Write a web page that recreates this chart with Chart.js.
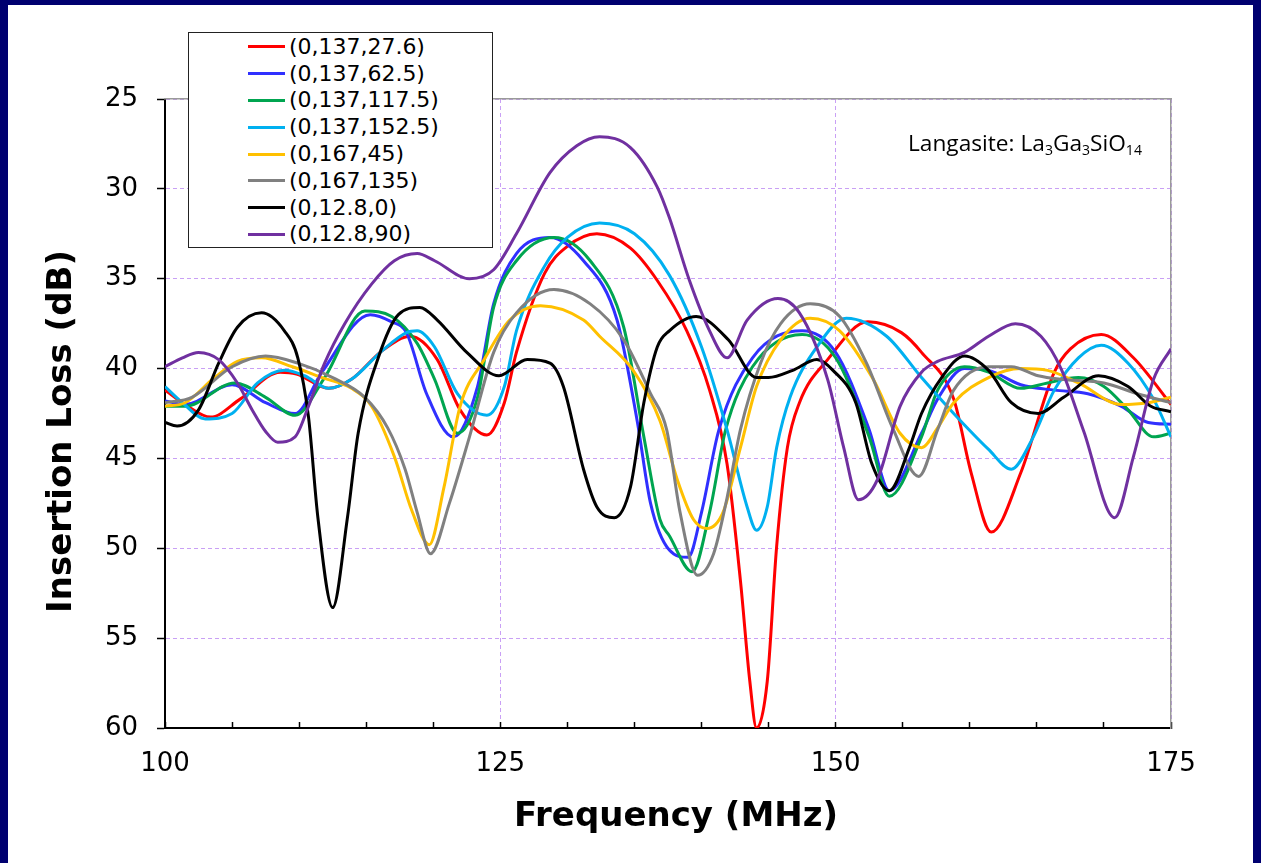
<!DOCTYPE html>
<html>
<head>
<meta charset="utf-8">
<script src="https://cdn.jsdelivr.net/npm/chart.js@4.4.1/dist/chart.umd.min.js"></script>
<style>
html,body{margin:0;padding:0;background:#000070;width:1261px;height:863px;overflow:hidden}
#panel{position:absolute;left:8px;top:5px;width:1245px;height:858px;background:#fff}
#c{position:absolute;left:0;top:0}
#legend{position:absolute;left:188px;top:32px;width:305px;height:216px;box-sizing:border-box;border:1.5px solid #222;background:#fff;font-family:"DejaVu Sans",sans-serif;font-size:22px;color:#000}
.row{position:absolute;left:0;height:26px;display:flex;align-items:center}
.swatch{margin-left:59px;width:37px;height:3px}
.lbl{margin-left:4px;white-space:nowrap;line-height:26px}
#note{position:absolute;left:908px;top:131px;font-family:"Open Sans",sans-serif;font-size:19px;white-space:nowrap;color:#000;line-height:24px}
#note sub{font-size:0.62em;vertical-align:-0.3em;line-height:0}
</style>
</head>
<body>
<div id="panel"></div>
<canvas id="c" width="1261" height="863"></canvas>
<div id="legend"></div>
<div id="note">Langasite: La<sub>3</sub>Ga<sub>3</sub>SiO<sub>14</sub></div>
<script>
// ---- Data (frequency MHz, insertion loss dB) ----
const seriesNames = ['(0,137,27.6)','(0,137,62.5)','(0,137,117.5)','(0,137,152.5)','(0,167,45)','(0,167,135)','(0,12.8,0)','(0,12.8,90)'];

const red = [[100,41.2],[101.5,42.0],[103.4,42.7],[105.6,41.7],[108.6,40.2],[109.8,40.3],[112.2,41.1],[113.9,40.6],[116.2,39.0],[118.3,38.2],[120.3,39.5],[122.0,42.3],[124.0,43.7],[125.3,41.9],[126.2,39.1],[128.3,34.7],[130.0,33.2],[132.2,32.5],[134.7,33.3],[136.7,35.1],[138.9,37.9],[140.6,41.2],[141.9,45.3],[142.9,51.8],[143.6,57.4],[144.1,60.0],[144.9,57.4],[145.6,49.9],[146.4,44.4],[147.3,41.9],[149.4,39.5],[152.4,37.4],[154.9,38.0],[156.4,39.1],[158.8,41.7],[160.1,45.8],[161.6,49.1],[163.8,45.8],[166.3,40.2],[167.5,38.9],[169.8,38.1],[172.2,39.4],[175,42.0]];

const blue = [[100,41.8],[101.5,42.0],[105.0,40.9],[107.5,41.9],[109.7,42.5],[111.7,40.2],[115.3,37.0],[116.9,37.4],[118.0,38.0],[119.5,41.4],[121.5,43.8],[123.3,41.0],[124.5,36.4],[126.2,33.6],[128.7,32.7],[131.2,34.0],[133.7,37.3],[135.2,42.9],[136.2,47.5],[137.6,50.1],[139.0,50.5],[140.0,48.0],[141.3,43.4],[143.8,39.4],[147.5,37.9],[150.0,39.1],[152.5,43.4],[154.0,46.8],[156.4,43.6],[157.6,41.7],[159.6,40.0],[161.4,40.1],[163.8,40.9],[166.3,41.2],[168.8,41.4],[171.3,42.1],[173.3,43.0],[175,43.1]];

const green = [[100,42.1],[101.5,42.1],[105.2,40.8],[107.5,41.6],[109.7,42.6],[111.9,40.5],[114.9,36.8],[116.9,37.1],[118.8,38.6],[120.1,40.6],[121.8,43.6],[123.3,41.6],[124.5,36.6],[126.2,34.0],[129.0,32.7],[131.7,34.0],[134.2,37.7],[135.7,43.8],[136.9,48.4],[137.6,49.3],[139.3,51.3],[140.6,48.0],[141.8,43.4],[143.8,39.9],[147.5,38.1],[150.0,39.4],[152.5,43.8],[154.0,47.1],[156.4,43.8],[157.6,41.2],[159.6,39.9],[161.4,40.2],[163.8,41.1],[165.8,40.8],[168.1,40.5],[170.0,41.0],[171.8,42.3],[173.7,43.8],[175,43.6]];

const cyan = [[100,41.0],[101.3,41.9],[103.0,42.8],[105.0,42.5],[106.9,40.8],[108.9,40.1],[110.4,40.4],[112.2,41.1],[113.9,40.6],[116.2,39.0],[118.0,38.0],[118.8,37.9],[120.1,38.8],[121.8,41.4],[124.0,42.6],[125.3,41.0],[126.2,37.9],[128.3,34.3],[130.0,32.7],[132.4,31.9],[135.0,32.5],[137.6,34.8],[140.0,38.8],[141.9,43.4],[143.4,47.7],[144.1,49.0],[144.9,47.7],[145.6,44.4],[146.6,41.6],[148.6,38.8],[150.8,37.2],[153.8,38.2],[156.4,40.5],[158.8,42.5],[161.4,44.5],[163.1,45.6],[164.6,44.0],[166.3,41.2],[168.1,39.4],[169.8,38.7],[171.8,39.7],[173.7,41.7],[175,43.8]];

const yellow = [[100,42.1],[101.5,41.9],[103.7,40.5],[105.4,39.6],[107.2,39.4],[109.5,39.9],[111.7,40.5],[113.9,41.1],[115.4,42.1],[117.1,44.9],[118.4,47.9],[119.7,49.8],[120.8,46.6],[122.0,42.1],[123.8,39.5],[125.7,37.3],[128.0,36.5],[131.2,37.3],[132.4,38.2],[134.9,40.1],[136.9,42.9],[138.2,46.2],[139.4,48.4],[140.4,48.9],[141.6,48.0],[142.9,44.4],[144.1,41.0],[145.9,38.4],[148.1,37.2],[150.3,37.9],[152.8,40.6],[154.8,43.6],[156.4,44.4],[157.6,43.3],[158.8,41.9],[161.4,40.5],[163.8,40.0],[165.8,40.1],[168.1,40.8],[171.3,42.0],[173.3,41.9],[175,41.6]];

const gray = [[100,41.9],[102.0,41.6],[105.0,39.9],[107.5,39.3],[109.9,39.7],[112.5,40.5],[114.9,41.6],[116.6,43.3],[117.9,45.6],[118.8,48.0],[119.8,50.3],[121.2,47.5],[122.7,43.8],[124.5,39.1],[126.2,36.9],[129.0,35.6],[131.7,36.4],[134.2,38.4],[136.2,41.4],[137.4,43.4],[138.4,48.0],[139.7,51.5],[140.9,50.3],[141.9,47.2],[142.9,43.4],[144.4,39.7],[145.9,37.5],[148.1,36.4],[150.3,37.1],[152.3,39.7],[154.3,43.4],[156.2,46.0],[157.6,43.4],[158.8,41.2],[161.4,39.9],[163.1,39.9],[165.1,40.4],[166.8,40.6],[170.0,40.8],[172.5,41.4],[175,41.9]];

const black = [[100,43.0],[100.9,43.2],[102.5,42.3],[104.0,39.7],[105.4,37.7],[107.2,36.9],[108.9,37.9],[109.9,39.4],[110.7,42.7],[111.4,48.3],[112.5,53.3],[113.6,48.3],[114.4,43.6],[115.9,39.4],[117.4,37.0],[119.0,36.6],[120.3,37.3],[122.5,39.1],[124.9,40.4],[127.0,39.5],[128.7,39.7],[129.7,41.0],[131.2,45.6],[132.2,47.7],[133.5,48.3],[134.7,46.6],[135.7,41.9],[136.7,38.8],[137.6,37.9],[139.6,37.1],[142.0,38.4],[144.1,40.5],[145.0,40.5],[146.8,40.1],[148.6,39.5],[149.8,40.1],[151.5,41.9],[152.7,45.3],[154.0,46.8],[155.5,44.4],[156.4,42.5],[157.9,40.5],[159.6,39.3],[161.4,40.1],[163.1,41.9],[165.1,42.5],[167.0,41.6],[169.6,40.4],[171.8,41.0],[173.5,42.1],[175,42.4]];

const purple = [[100,39.9],[101.3,39.4],[102.5,39.1],[104.0,39.5],[105.4,40.8],[106.5,42.3],[107.5,43.5],[108.4,44.1],[109.7,43.8],[110.7,42.1],[111.9,39.7],[113.4,37.5],[115.4,35.3],[117.1,34.0],[118.8,33.6],[120.1,34.0],[122.7,35.0],[124.5,34.5],[126.2,32.5],[128.7,29.1],[130.7,27.6],[132.4,27.1],[134.7,27.7],[136.7,29.9],[137.6,31.6],[139.1,35.1],[140.6,37.9],[141.9,39.4],[143.4,37.3],[145.7,36.1],[147.3,36.9],[149.4,40.6],[150.6,44.4],[151.7,47.3],[153.1,46.2],[154.8,42.1],[156.4,40.2],[157.6,39.6],[159.6,39.1],[161.4,38.2],[163.4,37.5],[165.3,38.2],[166.8,40.0],[168.5,43.5],[170.8,48.3],[172.2,44.9],[173.7,40.6],[175,38.9]];

const seriesData = [red, blue, green, cyan, yellow, gray, black, purple];

const freqMin = 100, freqMax = 175, freqStep = 5, freqLabelStep = 25;
const lossMin = 25, lossMax = 60, lossStep = 5;

// ---- Styles ----
const seriesColors = ['#ff0000','#3030ff','#00a550','#00b0f0','#ffc000','#808080','#000000','#7030a0'];
const gridPurple = '#c9a0f5';
const tickFont = {family:'"DejaVu Sans", sans-serif', size:26};
const titleFont = {family:'"DejaVu Sans", sans-serif', size:34, weight:'bold'};

// small offsets for the axis titles (reference titles are not exactly centred on the plot)
const titleShift = {
  id: 'titleShift',
  afterLayout(chart) {
    [['x', 8, 3], ['y', 0, 18]].forEach(([id, dx, dy]) => {
      const s = chart.scales[id];
      if (!s || s._shiftWrapped) return;
      const orig = s.drawTitle;
      s.drawTitle = function () {
        const c = this.ctx;
        c.save(); c.translate(dx, dy);
        orig.apply(this, arguments);
        c.restore();
      };
      s._shiftWrapped = true;
    });
  }
};

const datasets = seriesData.map((pts, i) => ({
  label: seriesNames[i],
  data: pts.map(p => ({x:p[0], y:p[1]})),
  borderColor: seriesColors[i],
  backgroundColor: seriesColors[i],
  borderWidth: 3,
  pointRadius: 0,
  fill: false,
  cubicInterpolationMode: 'monotone',
  order: seriesData.length - i
}));

const chart = new Chart(document.getElementById('c'), {
  type: 'line',
  data: {datasets},
  plugins: [titleShift],
  options: {
    responsive: false,
    animation: false,
    devicePixelRatio: 1,
    layout: {padding: {left: 0, top: 99, right: 90, bottom: 0}, autoPadding: false},
    plugins: {legend: {display: false}, tooltip: {enabled: false}},
    scales: {
      x: {
        type: 'linear', position: 'bottom', min: freqMin, max: freqMax,
        ticks: {stepSize: freqStep, autoSkip: false, maxRotation: 0, padding: 27, color: '#000', font: tickFont,
          callback: v => (v % freqLabelStep === 0 ? String(v) : '')},
        grid: {color: c => (c.tick && c.tick.value % freqLabelStep === 0 ? gridPurple : 'rgba(0,0,0,0)'),
          lineWidth: 1, tickLength: -6, tickColor: '#000', tickWidth: 1.5},
        border: {display: true, color: '#000', width: 2, dash: [4, 3]},
        title: {display: true, text: 'Frequency (MHz)', color: '#000', font: titleFont, padding: {top: 0, bottom: 28}},
        afterFit: s => { s.height = 135; }
      },
      y: {
        type: 'linear', position: 'left', reverse: true, min: lossMin, max: lossMax,
        ticks: {stepSize: lossStep, padding: 19, color: '#000', font: tickFont},
        grid: {color: gridPurple, lineWidth: 1, tickLength: 8, tickColor: '#000', tickWidth: 1.5},
        border: {display: true, color: '#000', width: 2, dash: [4, 3]},
        title: {display: true, text: 'Insertion Loss (dB)', color: '#000', font: titleFont, padding: {top: 42, bottom: 0}},
        afterFit: s => { s.width = 165; }
      },
      x2: {
        type: 'linear', position: 'top', min: freqMin, max: freqMax,
        ticks: {display: false},
        grid: {display: true, drawOnChartArea: false, drawTicks: false},
        border: {display: true, color: '#9a9a9a', width: 1.5},
        afterFit: s => { s.height = 0; }
      },
      y2: {
        type: 'linear', position: 'right', reverse: true, min: lossMin, max: lossMax,
        ticks: {display: false},
        grid: {display: true, drawOnChartArea: false, drawTicks: false},
        border: {display: true, color: '#9a9a9a', width: 1.5},
        afterFit: s => { s.width = 0; }
      }
    }
  }
});
chart.draw();

// ---- HTML legend built from the chart's datasets ----
const legend = document.getElementById('legend');
chart.data.datasets.forEach((ds, i) => {
  const row = document.createElement('div');
  row.className = 'row';
  row.style.top = (0.8 + 26.8 * i) + 'px';
  const sw = document.createElement('span');
  sw.className = 'swatch';
  sw.style.background = ds.borderColor;
  const lb = document.createElement('span');
  lb.className = 'lbl';
  lb.textContent = ds.label;
  row.appendChild(sw); row.appendChild(lb);
  legend.appendChild(row);
});
// fit legend text width to the reference (~136px for first label)
const first = legend.querySelector('.lbl');
const w0 = first.getBoundingClientRect().width;
if (w0 > 0) legend.style.fontSize = (22 * 136 / w0).toFixed(2) + 'px';

// fit note width (~234px)
const note = document.getElementById('note');
const nw = note.getBoundingClientRect().width;
if (nw > 0) note.style.fontSize = (19 * 234 / nw).toFixed(2) + 'px';
</script>
</body>
</html>
